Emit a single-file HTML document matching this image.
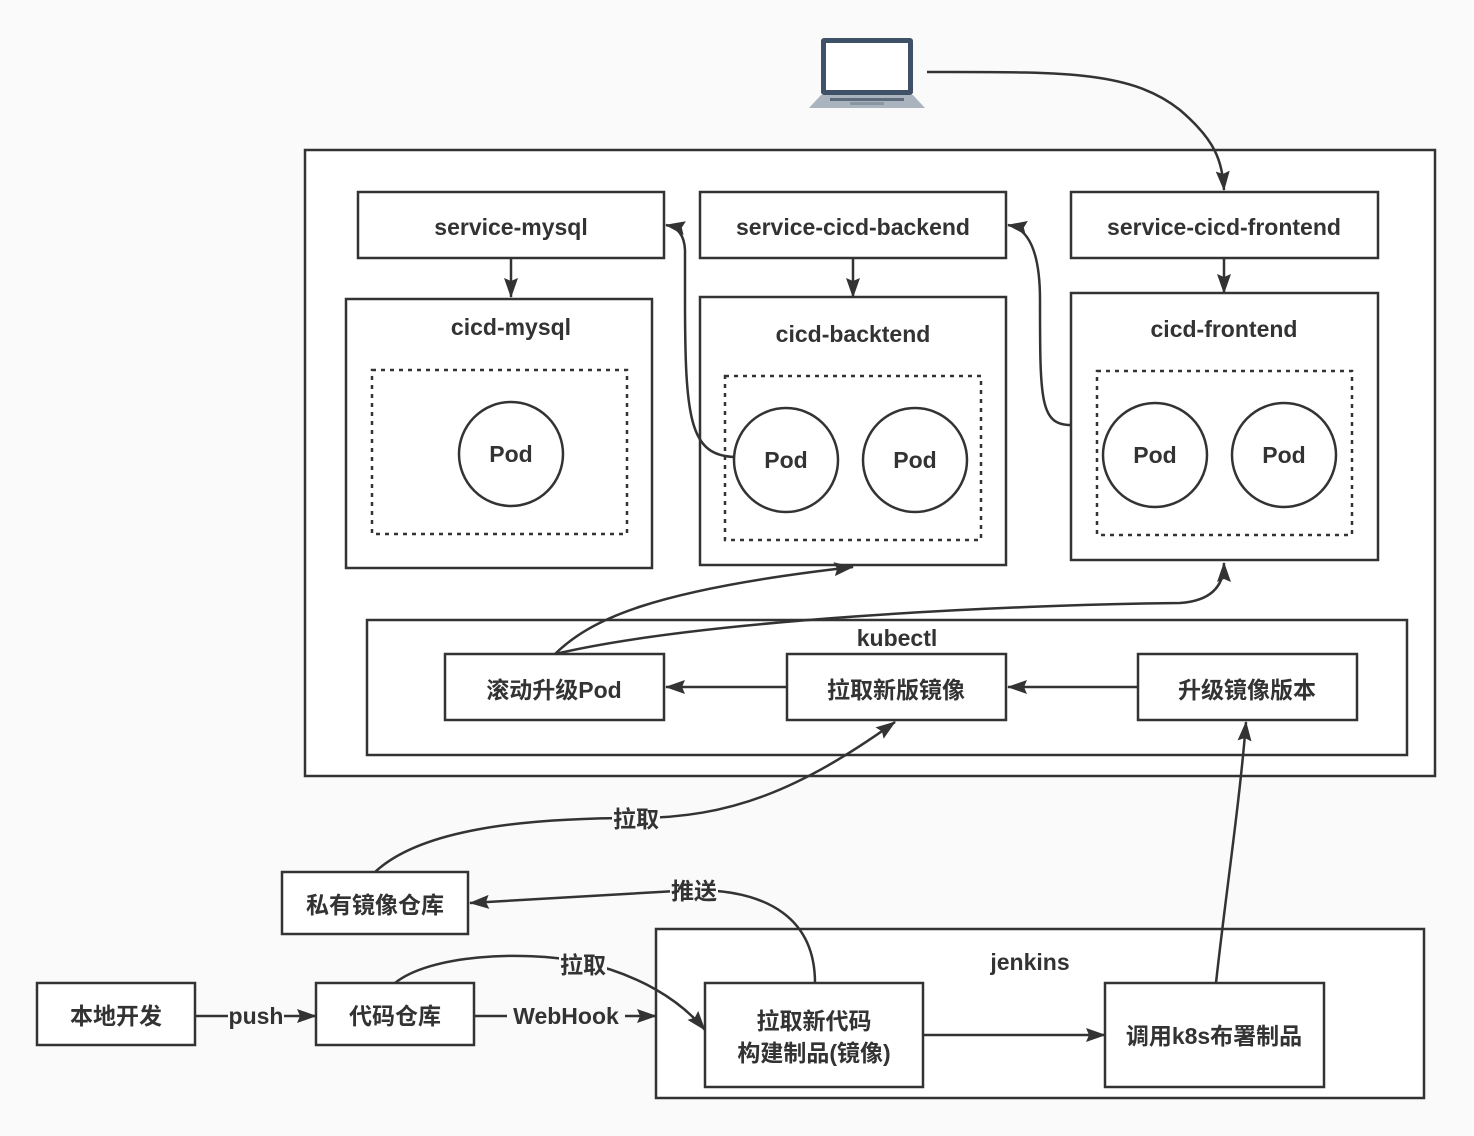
<!DOCTYPE html>
<html><head><meta charset="utf-8"><style>
html,body{margin:0;padding:0;background:#fafafa}
svg{display:block}
text{font-family:"Liberation Sans","Noto Sans CJK SC",sans-serif;font-weight:bold;fill:#333;text-anchor:middle;dominant-baseline:central}
</style></head><body>
<svg width="1474" height="1136" viewBox="0 0 1474 1136" xmlns="http://www.w3.org/2000/svg">
<defs>
<marker id="a" viewBox="0 0 20 14" refX="19" refY="7" markerWidth="20" markerHeight="14" markerUnits="userSpaceOnUse" orient="auto"><path d="M0,0 L20,7 L0,14 L3,7 z" fill="#333"/></marker>
</defs>
<rect width="1474" height="1136" fill="#fafafa"/>
<g fill="#fff" stroke="#333" stroke-width="2.5">
<rect x="305" y="150" width="1130" height="626"/>
<rect x="358" y="192" width="306" height="66"/>
<rect x="700" y="192" width="306" height="66"/>
<rect x="1071" y="192" width="307" height="66"/>
<rect x="346" y="299" width="306" height="269"/>
<rect x="700" y="297" width="306" height="268"/>
<rect x="1071" y="293" width="307" height="267"/>
<rect x="367" y="620" width="1040" height="135"/>
<rect x="445" y="654" width="219" height="66"/>
<rect x="787" y="654" width="219" height="66"/>
<rect x="1138" y="654" width="219" height="66"/>
<rect x="282" y="872" width="186" height="62"/>
<rect x="37" y="983" width="158" height="62"/>
<rect x="316" y="983" width="158" height="62"/>
<rect x="656" y="929" width="768" height="169"/>
<rect x="705" y="983" width="218" height="104"/>
<rect x="1105" y="983" width="219" height="104"/>
</g>
<g fill="none" stroke="#333" stroke-width="2.5" stroke-dasharray="4,5">
<rect x="372" y="370" width="255" height="164"/>
<rect x="725" y="376" width="256" height="164"/>
<rect x="1097" y="371" width="255" height="164"/>
</g>
<g fill="#fff" stroke="#333" stroke-width="2.5">
<circle cx="511" cy="454" r="52"/>
<circle cx="786" cy="460" r="52"/>
<circle cx="915" cy="460" r="52"/>
<circle cx="1155" cy="455" r="52"/>
<circle cx="1284" cy="455" r="52"/>
</g>
<g>
<rect x="821" y="38" width="92" height="57" rx="3" fill="#3f5166"/>
<rect x="826" y="43" width="82" height="47" fill="#fff"/>
<path d="M821,95 L913,95 L925,108 L809,108 z" fill="#aab4bf"/>
<rect x="830" y="98" width="74" height="3" fill="#5d6b7a"/>
<rect x="850" y="102" width="34" height="3" fill="#8a96a3"/>
</g>
<g fill="none" stroke="#333" stroke-width="2.5" marker-end="url(#a)">
<path d="M927,72 C1060,72 1130,70 1180,110 C1215,140 1222,160 1224,190"/>
<path d="M511,258 L511,297"/>
<path d="M853,258 L853,297"/>
<path d="M1224,258 L1224,293"/>
<path d="M734,457 C690,455 685,420 685,300 L685,250 Q684,228 666,225"/>
<path d="M1071,425 C1040,425 1040,400 1040,300 Q1040,230 1008,225"/>
<path d="M555,654 C590,620 650,590 853,567"/>
<path d="M555,654 C700,620 1000,605 1180,603 Q1224,600 1224,563"/>
<path d="M787,687 L666,687"/>
<path d="M1138,687 L1008,687"/>
<path d="M375,872 C420,830 520,818 636,818 C730,818 800,790 895,722"/>
<path d="M1216,983 C1225,900 1240,800 1246,722"/>
<path d="M815,983 C815,920 770,890 694,890 L470,903"/>
<path d="M395,983 C430,955 520,950 583,962 C640,975 680,1000 705,1030"/>
<path d="M195,1016 L316,1016"/>
<path d="M474,1016 L656,1016"/>
<path d="M923,1035 L1105,1035"/>
</g>
<g fill="#fafafa">
<rect x="612" y="808" width="48" height="22"/>
<rect x="670" y="880" width="48" height="22"/>
<rect x="559" y="954" width="48" height="22"/>
<rect x="228" y="1006" width="56" height="22"/>
<rect x="507" y="1006" width="118" height="22"/>
</g>
<g font-size="23">
<text x="511" y="227">service-mysql</text>
<text x="853" y="227">service-cicd-backend</text>
<text x="1224" y="227">service-cicd-frontend</text>
<text x="511" y="327">cicd-mysql</text>
<text x="853" y="334">cicd-backtend</text>
<text x="1224" y="329">cicd-frontend</text>
<text x="511" y="454">Pod</text>
<text x="786" y="460">Pod</text>
<text x="915" y="460">Pod</text>
<text x="1155" y="455">Pod</text>
<text x="1284" y="455">Pod</text>
<text x="897" y="638">kubectl</text>
<text x="554" y="690">滚动升级Pod</text>
<text x="896" y="690">拉取新版镜像</text>
<text x="1247" y="690">升级镜像版本</text>
<text x="636" y="819">拉取</text>
<text x="694" y="891">推送</text>
<text x="375" y="905">私有镜像仓库</text>
<text x="583" y="965">拉取</text>
<text x="1030" y="962">jenkins</text>
<text x="116" y="1016">本地开发</text>
<text x="256" y="1016">push</text>
<text x="395" y="1016">代码仓库</text>
<text x="566" y="1016">WebHook</text>
<text x="814" y="1021">拉取新代码</text>
<text x="814" y="1053">构建制品(镜像)</text>
<text x="1214" y="1036">调用k8s布署制品</text>
</g>
</svg>
</body></html>
